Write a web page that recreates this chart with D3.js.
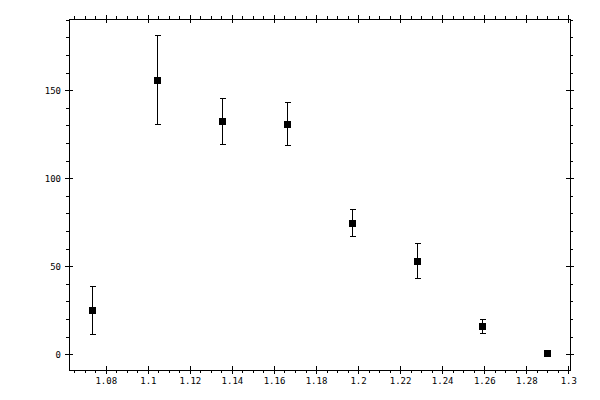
<!DOCTYPE html>
<html>
<head>
<meta charset="utf-8">
<script src="https://cdn.jsdelivr.net/npm/d3@7"></script>
<style>
html,body{margin:0;padding:0;background:#fff;}
svg{display:block;}
text{font-family:"DejaVu Sans Mono",monospace;font-size:9px;fill:#000;}
</style>
</head>
<body>
<svg id="chart" width="600" height="400"></svg>
<script>
// data
const xValues = [1.0733, 1.1044, 1.1354, 1.1663, 1.1970, 1.2279, 1.2589, 1.2900];
const yValues = [25.0, 155.7, 132.4, 130.7, 74.6, 52.9, 15.9, 0.6];
const yErrors = [13.6, 25.4, 13.1, 12.2, 7.7, 9.9, 4.0, 0.0];
const xTickLabels = ["1.08","1.1","1.12","1.14","1.16","1.18","1.2","1.22","1.24","1.26","1.28","1.3"];
const yTickLabels = ["0","50","100","150"];
const xDomain = [1.0625, 1.3008];
const yDomain = [-9, 190.5];

const svg = d3.select("#chart");
const L = 69, R = 570, T = 19, B = 370;

const x = d3.scaleLinear().domain(xDomain).range([L, R]);
const y = d3.scaleLinear().domain(yDomain).range([B, T]);

const xMajor = xTickLabels.map(Number);
const yMajor = yTickLabels.map(Number);
const xMinor = d3.range(Math.ceil(xDomain[0] / 0.005), Math.floor(xDomain[1] / 0.005) + 1).map(i => +(i * 0.005).toFixed(4));
const yMinor = d3.range(Math.ceil(yDomain[0] / 10), Math.floor(yDomain[1] / 10) + 1).map(i => i * 10);

const g = svg.append("g").attr("shape-rendering", "crispEdges");

function axis(gen, tx, ty, ticks, size, labels, fmt) {
  const a = g.append("g").attr("transform", `translate(${tx},${ty})`)
    .call(gen.tickValues(ticks).tickSize(size).tickPadding(labels ? 5 : 0)
      .tickFormat(labels ? fmt : () => ""));
  a.select(".domain").remove();
  a.selectAll("line").attr("stroke", "#000");
  a.selectAll("text").attr("font-family", null).attr("font-size", null);
  return a;
}

// minor ticks (outward, 3px)
axis(d3.axisBottom(x), 0, B, xMinor, 3, false);
axis(d3.axisTop(x), 0, T, xMinor, 3, false);
axis(d3.axisLeft(y), L, 0, yMinor, 3, false);
axis(d3.axisRight(y), R, 0, yMinor, 3, false);

// major ticks (both sides, 4px each)
const xb = axis(d3.axisBottom(x), 0, B, xMajor, 4, true, (d, i) => xTickLabels[i]);
xb.selectAll("line").attr("y1", -4).attr("y2", 4);
xb.selectAll("text").attr("dy", "1.0em").attr("y", 5);
const xt = axis(d3.axisTop(x), 0, T, xMajor, 4, false);
xt.selectAll("line").attr("y1", 4).attr("y2", -4);
const yl = axis(d3.axisLeft(y), L, 0, yMajor, 4, true, (d, i) => yTickLabels[i]);
yl.selectAll("line").attr("x1", 4).attr("x2", -4);
yl.selectAll("text").attr("x", -8);
const yr = axis(d3.axisRight(y), R, 0, yMajor, 4, false);
yr.selectAll("line").attr("x1", -4).attr("x2", 4);

// frame
g.append("rect").attr("x", L).attr("y", T).attr("width", R - L).attr("height", B - T)
  .attr("fill", "none").attr("stroke", "#000").attr("stroke-width", 1);

// data
const pts = xValues.map((v, i) => ({x: v, y: yValues[i], e: yErrors[i]}));
const eg = g.append("g").attr("stroke", "#000").attr("stroke-width", 1);
pts.filter(d => d.e > 0).forEach(d => {
  const cx = Math.round(x(d.x)) + 0.5;
  eg.append("line").attr("x1", cx).attr("x2", cx).attr("y1", y(d.y + d.e)).attr("y2", y(d.y - d.e));
  eg.append("line").attr("x1", cx - 3).attr("x2", cx + 3).attr("y1", y(d.y + d.e)).attr("y2", y(d.y + d.e));
  eg.append("line").attr("x1", cx - 3).attr("x2", cx + 3).attr("y1", y(d.y - d.e)).attr("y2", y(d.y - d.e));
});
g.append("g").selectAll("rect").data(pts).join("rect")
  .attr("x", d => Math.round(x(d.x)) - 3)
  .attr("y", d => Math.round(y(d.y)) - 3)
  .attr("width", 7).attr("height", 7).attr("fill", "#000");
</script>
</body>
</html>
